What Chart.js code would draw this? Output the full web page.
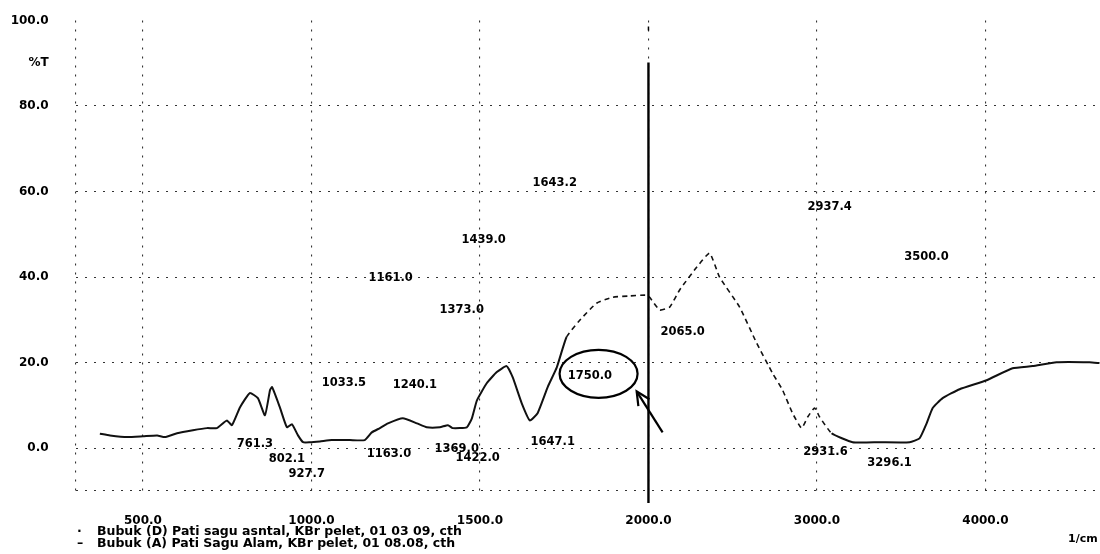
<!DOCTYPE html>
<html><head><meta charset="utf-8">
<script src="https://cdn.jsdelivr.net/npm/chart.js@4.4.1/dist/chart.umd.min.js"></script>
<style>html,body{margin:0;padding:0;background:#fff}#c{display:block}</style>
</head><body>
<canvas id="c" width="1100" height="554"></canvas>
<script>
// ---- data (wavenumber 1/cm, %T) ----
const wavenumber = [372,402,453,500,542,565,601,648,690,719,737,749,764,788,817,841,862,877,883,906,927,942,960,975,995,1025,1060,1114,1158,1179,1203,1227,1271,1313,1342,1381,1405,1419,1461,1476,1491,1520,1550,1579,1597,1624,1648,1671,1701,1728,1757,1796,1846,1894,1944,1995,2007,2067,2126,2185,2286,2363,2422,2541,2642,2737,2796,2855,2909,2945,2986,3016,3087,3212,3372,3550,3609,3651,3687,3746,3847,4007,4161,4280,4422,4618,4677];
const transmittance = [3.4,3.0,2.6,2.8,3.0,2.6,3.5,4.2,4.7,4.7,5.8,6.5,5.4,9.6,12.9,11.7,7.7,13.6,14.3,9.6,4.9,5.6,3.0,1.4,1.4,1.6,1.9,1.9,1.9,3.7,4.7,5.8,7.0,5.8,4.9,4.9,5.4,4.7,4.9,7.0,11.2,15.2,17.8,19.2,16.6,10.5,6.5,8.2,14.3,18.9,26.0,29.9,33.9,35.3,35.6,35.8,35.3,32.3,33.0,37.0,42.3,45.6,40.0,33.0,24.6,17.5,13.6,8.2,4.7,7.3,9.4,7.3,3.5,1.4,1.4,1.4,2.3,5.8,9.4,11.7,13.8,15.9,18.7,19.2,20.1,20.1,19.9];

const xTicks = [300,500,1000,1500,2000,3000,4000];
const xTickLabels = ['','500.0','1000.0','1500.0','2000.0','3000.0','4000.0'];
const yTicks = [-10,0,20,40,60,80,90,100];
const yTickLabels = ['','0.0','20.0','40.0','60.0','80.0','%T','100.0'];

const peakText = ['1643.2','1439.0','1161.0','1373.0','1033.5','1240.1','1750.0','2065.0','2937.4','3500.0','761.3','802.1','927.7','1163.0','1369.0','1422.0','1647.1','2931.6','3296.1'];
const peakX = [1722,1511,1235,1446,1096,1307,1826,2203,3075,3650,832,927,986,1230,1431,1493,1716,3051,3431];
const peakY = [62.0,48.7,39.8,32.3,15.2,14.7,16.8,27.1,56.4,44.7,0.9,-2.6,-6.1,-1.4,-0.2,-2.3,1.4,-0.9,-3.5];

const circleAt = [1852, 17.4];        // circled peak label
const arrowFrom = [2084, 3.7];
const arrowTo = [1965, 13.3];

const legendMarks = ['\u00b7','\u2013'];
const legendLines = ['Bubuk (D) Pati sagu asntal, KBr pelet, 01 03 09, cth','Bubuk (A) Pati Sagu Alam, KBr pelet, 01 08.08, cth'];
const unitLabel = '1/cm';

// ---- x scale: expanded below 2000 1/cm (Shimadzu style) ----
const BREAK = 2000, SQUEEZE = 2;
const tf = v => v <= BREAK ? v : BREAK + (v - BREAK) / SQUEEZE;
const itf = t => t <= BREAK ? t : BREAK + (t - BREAK) * SQUEEZE;
class BrokenScale extends Chart.LinearScale {
  getPixelForValue(v) { const a = tf(this.min), b = tf(this.max); return this.getPixelForDecimal((tf(v) - a) / (b - a)); }
  getValueForPixel(p) { const a = tf(this.min), b = tf(this.max); return itf(a + this.getDecimalForPixel(p) * (b - a)); }
}
BrokenScale.id = 'brokenx';
BrokenScale.defaults = Chart.LinearScale.defaults;
Chart.register(BrokenScale);

const BOLD = 'DejaVu Sans';
const overlay = {
  id: 'overlay',
  afterDatasetsDraw(chart) {
    const {ctx, scales: {x, y}, chartArea: ca} = chart;
    ctx.save();
    // heavy 2000 line
    const px = x.getPixelForValue(2000);
    ctx.strokeStyle = '#000'; ctx.lineWidth = 2.4;
    ctx.beginPath(); ctx.moveTo(px, ca.top + 42); ctx.lineTo(px, ca.bottom + 12); ctx.stroke();
    ctx.lineWidth = 1.5;
    ctx.beginPath(); ctx.moveTo(px, ca.top + 6); ctx.lineTo(px, ca.top + 10); ctx.stroke();
    // peak labels
    ctx.fillStyle = '#000';
    ctx.font = 'bold 11.5px "' + BOLD + '"';
    ctx.textAlign = 'center'; ctx.textBaseline = 'middle';
    peakText.forEach((t, i) => ctx.fillText(t, x.getPixelForValue(peakX[i]), y.getPixelForValue(peakY[i])));
    // ellipse
    ctx.lineWidth = 2.2;
    ctx.beginPath();
    ctx.ellipse(x.getPixelForValue(circleAt[0]), y.getPixelForValue(circleAt[1]), 39, 24, 0, 0, Math.PI * 2);
    ctx.stroke();
    // arrow
    const ax = x.getPixelForValue(arrowFrom[0]), ay = y.getPixelForValue(arrowFrom[1]);
    const bx = x.getPixelForValue(arrowTo[0]), by = y.getPixelForValue(arrowTo[1]);
    ctx.lineWidth = 2.2;
    ctx.beginPath(); ctx.moveTo(ax, ay); ctx.lineTo(bx, by); ctx.stroke();
    const ang = Math.atan2(by - ay, bx - ax);
    ctx.beginPath();
    ctx.moveTo(bx - 15 * Math.cos(ang - 0.45), by - 15 * Math.sin(ang - 0.45));
    ctx.lineTo(bx, by);
    ctx.lineTo(bx - 15 * Math.cos(ang + 0.45), by - 15 * Math.sin(ang + 0.45));
    ctx.stroke();
    // legend lines
    ctx.textAlign = 'left';
    ctx.font = 'bold 12.5px "' + BOLD + '"';
    legendLines.forEach((t, i) => {
      const yy = 532 + i * 11.5;
      ctx.fillText(legendMarks[i], 77, yy);
      ctx.fillText(t, 97, yy);
    });
    ctx.font = 'bold 11px "' + BOLD + '"';
    ctx.fillText(unitLabel, 1068, 539);
    ctx.restore();
  }
};

const hidden = new Set([90, 100]);
new Chart(document.getElementById('c'), {
  type: 'line',
  data: {
    datasets: [{
      label: 'Bubuk (A) Pati Sagu Alam',
      data: wavenumber.map((w, i) => ({x: w, y: transmittance[i]})),
      borderColor: '#111',
      borderWidth: 2,
      pointRadius: 0,
      tension: 0.15,
      fill: false,
      segment: {
        borderDash: c => (c.p0.parsed.x >= 1750 && c.p0.parsed.x < 3050) ? [5, 4] : undefined,
        borderWidth: c => (c.p0.parsed.x >= 1750 && c.p0.parsed.x < 3050) ? 1.6 : undefined
      }
    }]
  },
  options: {
    responsive: false,
    animation: false,
    devicePixelRatio: 1,
    layout: {padding: {top: 20.5, left: 0, right: 0, bottom: 0}},
    plugins: {legend: {display: false}, tooltip: {enabled: false}},
    scales: {
      x: {
        type: 'brokenx', min: 300, max: 4680,
        afterBuildTicks: s => { s.ticks = xTicks.map(v => ({value: v})); },
        afterFit: s => { s.height = 63; s.paddingLeft = 0; s.paddingRight = 0; },
        ticks: {
          callback: (v, i) => xTickLabels[i],
          color: '#000', padding: 23, maxRotation: 0, autoSkip: false,
          font: {family: BOLD, weight: 'bold', size: 12}
        },
        grid: {color: '#333', lineWidth: 1.1, drawTicks: false},
        border: {display: false, dash: [2, 7]}
      },
      y: {
        min: -10, max: 100,
        afterBuildTicks: s => { s.ticks = yTicks.map(v => ({value: v})); },
        afterFit: s => { s.width = 75.6; s.paddingTop = 0; s.paddingBottom = 0; },
        ticks: {
          callback: (v, i) => yTickLabels[i],
          color: '#000', padding: 27, autoSkip: false,
          font: {family: BOLD, weight: 'bold', size: 12}
        },
        grid: {
          color: c => hidden.has(c.tick && c.tick.value) ? 'rgba(0,0,0,0)' : '#333',
          lineWidth: 1.1, drawTicks: false
        },
        border: {display: false, dash: [2, 7]}
      }
    }
  },
  plugins: [overlay]
});
</script>
</body></html>
